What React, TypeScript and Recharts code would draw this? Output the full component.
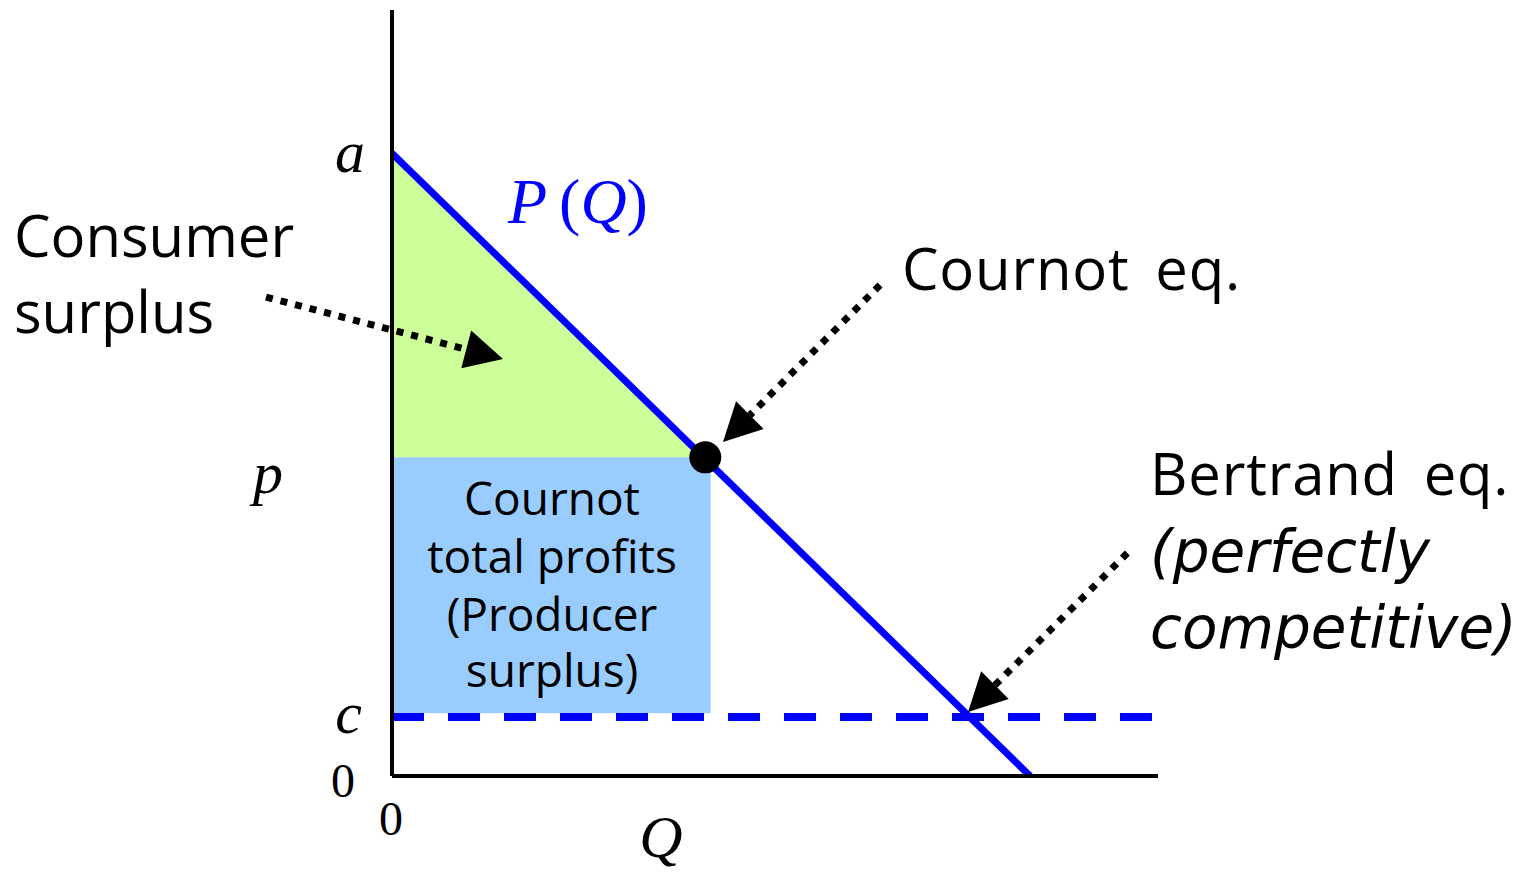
import React from "react";
import {
  Area,
  ComposedChart,
  Line,
  ReferenceDot,
  ReferenceLine,
  XAxis,
  YAxis,
} from "recharts";

// plot box is 766px for 100 units on both axes
const PX_PER_UNIT = 7.66;

// inverse demand P(Q) = a - bQ
const demandQ = [0, 83.3];
const demandP = [81.3, 0];

// marginal cost c (dashed line) and how far it runs
const costLevel = 7.7;
const costLineQ = [0, 99.35];

// Cournot equilibrium
const cournotQ = 40.9;
const cournotP = 41.6;

// producer surplus box: right edge Q, [bottom, top] in P
const profitBoxQ = 41.6;
const profitBoxP = [8.2, 41.6];

// axis ticks
const xTickValues = [0];
const xTickLabels = ["0"];
const yTickValues = [0, 7.7, 41.6, 81.3];
const yTickLabels = ["0", "c", "p", "a"];

// arrows: start and tip, in (Q, P)
const arrowStarts = [
  [-16.45, 62.53],
  [63.71, 64.1],
  [96.0, 29.1],
];
const arrowTips = [
  [14.49, 54.44],
  [43.21, 43.6],
  [75.2, 8.36],
];

const SANS = "'Open Sans', 'Liberation Sans', sans-serif";
const OBLIQUE = "'DejaVu Sans', 'Open Sans', sans-serif";
const MATH = "'Liberation Serif', 'DejaVu Serif', serif";

type Note = { q: number; p: number; text: string; kind: string };

const notes: Note[] = [
  { q: -49.35, p: 67.75, text: "Consumer", kind: "sans" },
  { q: -49.35, p: 57.83, text: "surplus", kind: "sans" },
  { q: 66.58, p: 63.45, text: "Cournot eq.", kind: "sansEq" },
  { q: 98.96, p: 36.68, text: "Bertrand eq.", kind: "sansEq" },
  { q: 98.96, p: 26.63, text: "(perfectly", kind: "sansItalic" },
  { q: 98.96, p: 16.71, text: "competitive)", kind: "sansItalic" },
  { q: 20.89, p: 34.07, text: "Cournot", kind: "box" },
  { q: 20.89, p: 26.5, text: "total profits", kind: "box" },
  { q: 20.89, p: 18.93, text: "(Producer", kind: "box" },
  { q: 20.89, p: 11.62, text: "surplus)", kind: "box" },
  { q: 35.12, p: -10.57, text: "Q", kind: "math" },
];

// the P(Q) label, with upright parentheses
const demandLabelAt = { q: 15.14, p: 72.19 };

const noteStyles: Record<string, React.SVGProps<SVGTextElement>> = {
  sans: { fontFamily: SANS, fontSize: 58, textAnchor: "start", fill: "#000" },
  sansEq: {
    fontFamily: SANS,
    fontSize: 58,
    textAnchor: "start",
    fill: "#000",
    wordSpacing: 10,
    letterSpacing: 0.8,
  },
  sansItalic: {
    fontFamily: OBLIQUE,
    fontSize: 58,
    fontStyle: "italic",
    textAnchor: "start",
    fill: "#000",
  },
  box: { fontFamily: SANS, fontSize: 46, textAnchor: "middle", fill: "#000" },
  math: {
    fontFamily: MATH,
    fontSize: 60,
    fontStyle: "italic",
    textAnchor: "middle",
    fill: "#000",
  },
};

// per-label nudges for the y tick letters (dx, dy in px)
const yTickNudge = [
  [-37, 21],
  [-30, 16],
  [-109, 36],
  [-27, 19],
];

const HEAD_LEN = 38;
const HEAD_HALF = 19.5;

function YTick(props: any) {
  const { x, y, payload } = props;
  const i = yTickValues.indexOf(payload.value);
  if (i < 0) return null;
  const [dx, dy] = yTickNudge[i];
  const isDigit = yTickLabels[i] === "0";
  return (
    <text
      x={x + dx}
      y={y + dy}
      textAnchor="end"
      fontFamily={MATH}
      fontSize={isDigit ? 48 : 60}
      fontStyle={isDigit ? "normal" : "italic"}
      fill="#000"
    >
      {yTickLabels[i]}
    </text>
  );
}

function XTick(props: any) {
  const { x, y, payload } = props;
  const i = xTickValues.indexOf(payload.value);
  if (i < 0) return null;
  return (
    <text
      x={x - 1}
      y={y + 59}
      textAnchor="middle"
      fontFamily={MATH}
      fontSize={48}
      fill="#000"
    >
      {xTickLabels[i]}
    </text>
  );
}

function unitDir(i: number) {
  const dq = arrowTips[i][0] - arrowStarts[i][0];
  const dp = arrowTips[i][1] - arrowStarts[i][1];
  const len = Math.hypot(dq, dp);
  return [dq / len, dp / len];
}

function arrowHead(i: number) {
  return (props: any) => {
    const { cx, cy } = props;
    const [uq, up] = unitDir(i);
    // pixel direction (y flipped)
    const ux = uq;
    const uy = -up;
    const bx = cx - HEAD_LEN * ux;
    const by = cy - HEAD_LEN * uy;
    const pts = [
      [cx, cy],
      [bx - HEAD_HALF * uy, by + HEAD_HALF * ux],
      [bx + HEAD_HALF * uy, by - HEAD_HALF * ux],
    ]
      .map((p) => p.join(","))
      .join(" ");
    return <polygon points={pts} fill="#000" />;
  };
}

function noteShape(n: Note) {
  return (props: any) => (
    <text x={props.cx} y={props.cy} {...noteStyles[n.kind]}>
      {n.text}
    </text>
  );
}

function demandLabel(props: any) {
  return (
    <text
      x={props.cx}
      y={props.cy}
      fontFamily={MATH}
      fontSize={64}
      fill="#0000ff"
    >
      <tspan fontStyle="italic">P</tspan>
      <tspan dx={12}>(</tspan>
      <tspan fontStyle="italic">Q</tspan>
      <tspan>)</tspan>
    </text>
  );
}

export default function App() {
  const demandData = demandQ.map((q, i) => ({ q, p: demandP[i] }));
  const surplusData = [
    { q: demandQ[0], p: demandP[0] },
    { q: cournotQ, p: cournotP },
  ];
  const profitData = [
    { q: 0, p: profitBoxP[1] },
    { q: profitBoxQ, p: profitBoxP[1] },
  ];

  const shaftLen = HEAD_LEN / PX_PER_UNIT;

  return (
    <div
      style={{
        position: "absolute",
        left: 0,
        top: 0,
        width: 1532,
        height: 872,
        background: "#fff",
      }}
    >
      <ComposedChart
        width={1532}
        height={872}
        margin={{ top: 10, right: 374, left: 312, bottom: 36 }}
      >
        <XAxis
          type="number"
          dataKey="q"
          domain={[0, 100]}
          allowDataOverflow
          ticks={xTickValues}
          interval={0}
          tick={<XTick />}
          tickLine={false}
          tickSize={0}
          tickMargin={0}
          axisLine={{ stroke: "#000", strokeWidth: 4 }}
          height={60}
        />
        <YAxis
          type="number"
          domain={[0, 100]}
          allowDataOverflow
          ticks={yTickValues}
          interval={0}
          tick={<YTick />}
          tickLine={false}
          tickSize={0}
          tickMargin={0}
          axisLine={{ stroke: "#000", strokeWidth: 4 }}
          width={80}
        />
        <Area
          data={surplusData}
          dataKey="p"
          type="linear"
          baseValue={cournotP}
          fill="#ccff99"
          fillOpacity={1}
          stroke="none"
          isAnimationActive={false}
        />
        <Area
          data={profitData}
          dataKey="p"
          type="linear"
          baseValue={profitBoxP[0]}
          fill="#99ccff"
          fillOpacity={1}
          stroke="none"
          isAnimationActive={false}
        />
        <Line
          data={demandData}
          dataKey="p"
          type="linear"
          stroke="#0000ff"
          strokeWidth={7}
          dot={false}
          activeDot={false}
          isAnimationActive={false}
        />
        <ReferenceLine
          segment={[
            { x: costLineQ[0], y: costLevel },
            { x: costLineQ[1], y: costLevel },
          ]}
          stroke="#0000ff"
          strokeWidth={8}
          strokeDasharray="32 24"
          ifOverflow="visible"
        />
        <ReferenceDot
          x={cournotQ}
          y={cournotP}
          r={16}
          fill="#000"
          stroke="none"
          ifOverflow="visible"
        />
        {arrowStarts.map((s, i) => {
          const [uq, up] = unitDir(i);
          const end = {
            x: arrowTips[i][0] - uq * shaftLen,
            y: arrowTips[i][1] - up * shaftLen,
          };
          return (
            <ReferenceLine
              key={`shaft-${i}`}
              segment={[{ x: s[0], y: s[1] }, end]}
              stroke="#000"
              strokeWidth={7}
              strokeDasharray="7 8"
              ifOverflow="visible"
            />
          );
        })}
        {arrowTips.map((t, i) => (
          <ReferenceDot
            key={`head-${i}`}
            x={t[0]}
            y={t[1]}
            r={1}
            ifOverflow="visible"
            shape={arrowHead(i)}
          />
        ))}
        <ReferenceDot
          x={demandLabelAt.q}
          y={demandLabelAt.p}
          r={1}
          ifOverflow="visible"
          shape={demandLabel}
        />
        {notes.map((n, i) => (
          <ReferenceDot
            key={`note-${i}`}
            x={n.q}
            y={n.p}
            r={1}
            ifOverflow="visible"
            shape={noteShape(n)}
          />
        ))}
      </ComposedChart>
    </div>
  );
}
